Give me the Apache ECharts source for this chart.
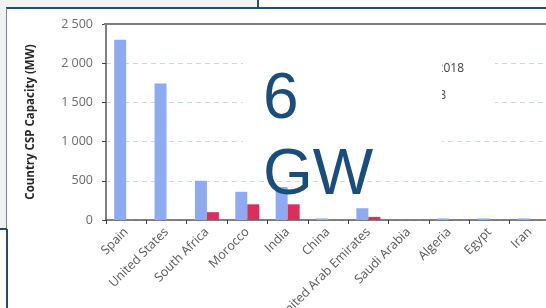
<!DOCTYPE html>
<html>
<head>
<meta charset="utf-8">
<script src="https://cdn.jsdelivr.net/npm/echarts@6/dist/echarts.min.js"></script>
<style>
  html, body { margin: 0; padding: 0; background: #fff; }
  #csp_chart { width: 546px; height: 308px; }
</style>
</head>
<body>
<div id="csp_chart"></div>
<script>
// values
var countries = ['Spain', 'United States', 'South Africa', 'Morocco', 'India', 'China',
	'United Arab Emirates', 'Saudi Arabia', 'Algeria', 'Egypt', 'Iran'];
var operational = [2300, 1740, 500, 360, 420, 20, 150, 0, 20, 20, 20];
var construction = [0, 0, 100, 200, 200, 0, 40, 0, 0, 0, 0];
var yTicks = [0, 500, 1000, 1500, 2000, 2500];

var myCspChart = echarts.init(document.getElementById('csp_chart'));
myCspChart.setOption(getCspOption());

function fmtTick(v){
	// thousands with a space, like "2 500"
	var s = String(v);
	if (s.length > 3) s = s.slice(0, s.length - 3) + ' ' + s.slice(-3);
	return s;
}

function getCspOption(){
	var option = {
		backgroundColor: '#ffffff',
		animation: false,
		textStyle: { fontFamily: 'Open Sans' },
		grid: {
			left: 106,
			top: 24,
			right: -4,
			bottom: 88,
			containLabel: false,
			outerBoundsMode: 'none'
		},
		xAxis: {
			type: 'category',
			data: countries,
			axisLine: { lineStyle: { color: '#595959', width: 1.5 } },
			axisTick: { show: true, length: 4, inside: false, lineStyle: { color: '#404040' } },
			axisLabel: {
				interval: 0,
				rotate: 45,
				color: '#595959',
				fontSize: 12.5,
				margin: 10
			}
		},
		yAxis: {
			type: 'value',
			min: yTicks[0],
			max: yTicks[yTicks.length - 1],
			interval: 500,
			name: 'Country CSP Capacity (MW)',
			nameLocation: 'middle',
			nameGap: 69,
			nameTextStyle: { color: '#262626', fontSize: 11.5, fontWeight: 'bold' },
			axisLine: { show: true, lineStyle: { color: '#595959', width: 1.5 } },
			axisTick: { show: true, length: 4, lineStyle: { color: '#404040' } },
			axisLabel: {
				color: '#6a6a6a',
				fontSize: 12.5,
				margin: 13,
				formatter: fmtTick
			},
			splitLine: {
				show: true,
				lineStyle: { color: '#cdd6ee', type: [5, 4], width: 1 }
			}
		},
		series: [
			{
				name: 'Operational 2018',
				type: 'bar',
				data: operational,
				barWidth: 12,
				barGap: '0%',
				itemStyle: { color: '#8eaaf0' }
			},
			{
				name: 'Under construction 2018',
				type: 'bar',
				data: construction,
				barWidth: 12,
				itemStyle: { color: '#d8305c' }
			}
		],
		graphic: [
			// top edge of the plot frame
			{ type: 'line', z: 99, shape: { x1: 104, y1: 24, x2: 546, y2: 24 }, style: { stroke: '#7f7f7f', lineWidth: 2 } },
			// slide pieces around the chart
			{ type: 'rect', z: 100, shape: { x: 0, y: 0, width: 258, height: 8 }, style: { fill: '#f2f2f2' } },
			{ type: 'rect', z: 100, shape: { x: 0, y: 0, width: 6, height: 230 }, style: { fill: '#f2f2f2' } },
			{ type: 'line', z: 101, shape: { x1: 258, y1: 0, x2: 258, y2: 8 }, style: { stroke: '#1f4e79', lineWidth: 2 } },
			{ type: 'line', z: 101, shape: { x1: 6, y1: 8, x2: 546, y2: 8 }, style: { stroke: '#1f4e79', lineWidth: 2 } },
			{ type: 'line', z: 101, shape: { x1: 6.5, y1: 8, x2: 6.5, y2: 230 }, style: { stroke: '#6a86a3', lineWidth: 1 } },
			{ type: 'line', z: 101, shape: { x1: 0, y1: 229, x2: 7, y2: 229 }, style: { stroke: '#1f4e79', lineWidth: 2 } },
			{ type: 'line', z: 101, shape: { x1: 7, y1: 229, x2: 7, y2: 308 }, style: { stroke: '#1f4e79', lineWidth: 2 } },
			// legend box, mostly hidden
			{ type: 'rect', z: 100, shape: { x: 438, y: 26, width: 57, height: 94 }, style: { fill: '#ffffff' } },
			{ type: 'text', z: 101, x: 464, y: 69, style: { text: '2018', fill: '#404040', fontSize: 12, fontFamily: 'Open Sans', align: 'right', verticalAlign: 'middle' } },
			{ type: 'text', z: 101, x: 446, y: 96, style: { text: '2018', fill: '#404040', fontSize: 12, fontFamily: 'Open Sans', align: 'right', verticalAlign: 'middle' } },
			// text box on top
			{ type: 'rect', z: 102, shape: { x: 243, y: 26, width: 199, height: 144 }, style: { fill: '#ffffff' } },
			{ type: 'text', z: 103, x: 263, y: 100, style: { text: '6', fill: '#1a4d7a', fontSize: 64, fontFamily: 'Liberation Sans', verticalAlign: 'middle' } },
			{ type: 'text', z: 103, x: 263, y: 176, style: { text: 'GW', fill: '#1a4d7a', fontSize: 64, fontFamily: 'Liberation Sans', verticalAlign: 'middle' } }
		]
	};
	return option;
}
</script>
</body>
</html>
